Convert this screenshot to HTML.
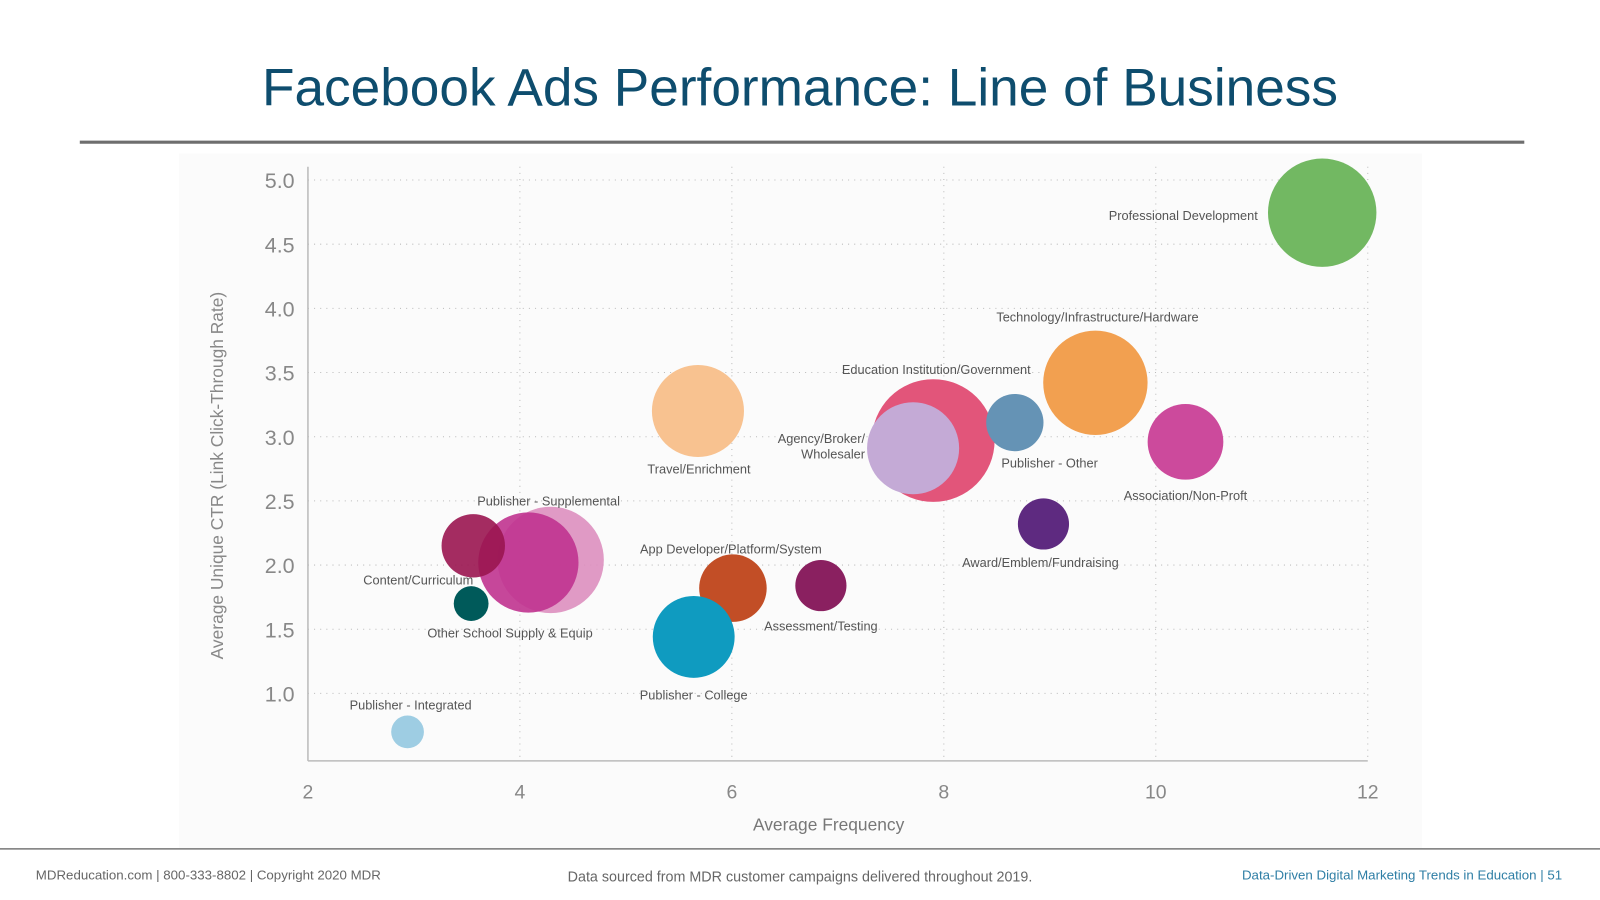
<!DOCTYPE html>
<html><head><meta charset="utf-8"><style>
html,body{margin:0;padding:0;background:#fff;width:1600px;height:900px;overflow:hidden}
svg{display:block}
text{font-family:"Liberation Sans",sans-serif}
</style></head><body>
<svg id="chart" width="1600" height="900" viewBox="0 0 1564 880" preserveAspectRatio="none" xmlns="http://www.w3.org/2000/svg">
<rect x="175" y="150" width="1215" height="680" fill="#fbfbfb"/>
<text x="782" y="103" text-anchor="middle" font-size="52" fill="#0e4d6e">Facebook Ads Performance: Line of Business</text>
<line x1="78" y1="139" x2="1490" y2="139" stroke="#6e6e6e" stroke-width="3"/>
<line x1="0" y1="830" x2="1564" y2="830" stroke="#777" stroke-width="1.5"/>
<g id="grid"></g><g id="bubbles"></g><g id="labels"></g><g id="axes"></g>
<text x="810" y="812" text-anchor="middle" font-size="17" fill="#777">Average Frequency</text>
<text transform="translate(218,465) rotate(-90)" text-anchor="middle" font-size="17" fill="#888">Average Unique CTR (Link Click-Through Rate)</text>
<text x="35" y="860" font-size="13" fill="#666">MDReducation.com  |  800-333-8802  |  Copyright 2020 MDR</text>
<text x="782" y="862" text-anchor="middle" font-size="14" fill="#666">Data sourced from MDR customer campaigns delivered throughout 2019.</text>
<text x="1527" y="860" text-anchor="end" font-size="13" fill="#2e7ea5">Data-Driven Digital Marketing Trends in Education  |  51</text>
</svg>
<script>
const categories=["Professional Development","Technology/Infrastructure/Hardware","Education Institution/Government","Agency/Broker/Wholesaler","Publisher - Other","Association/Non-Proft","Award/Emblem/Fundraising","Travel/Enrichment","App Developer/Platform/System","Assessment/Testing","Publisher - College","Publisher - Supplemental","Other School Supply & Equip","Content/Curriculum","Other School Supply (small)","Publisher - Integrated"];
const freq=[11.57,9.43,7.90,7.71,8.67,10.28,8.94,5.68,6.01,6.84,5.64,4.29,4.08,3.56,3.54,2.94];
const ctr=[4.745,3.42,2.97,2.91,3.11,2.96,2.32,3.20,1.82,1.84,1.44,2.04,2.02,2.15,1.70,0.70];
const sizes=[53,51,60,45,28,37,25,45,33,25,40,52,49,31,17,16];
const xTicks=[2,4,6,8,10,12];
const yTicks=[1.0,1.5,2.0,2.5,3.0,3.5,4.0,4.5,5.0];
const colors=["#72b862","#f2a050","#e2557a","#c4aad6","#6593b5","#cc4a9c","#5e2a80","#f8c290","#c24e26","#8a2060","#0f9bc0","#dd8fbf","#c0338f","#9a1550","#005a5a","#9ecde3"];
const opac=[1,1,1,1,1,1,1,1,1,1,1,0.9,0.9,0.9,1,1];
// label layout: [text lines, dx, dy, anchor] relative to bubble centre
const labelLayout=[[["Professional Development"],-63,7,"end"],[["Technology/Infrastructure/Hardware"],2,-60,"middle"],[["Education Institution/Government"],3,-65,"middle"],[["Agency/Broker/","Wholesaler"],-47,-5,"end"],[["Publisher - Other"],34,44,"middle"],[["Association/Non-Proft"],0,57,"middle"],[["Award/Emblem/Fundraising"],-3,42,"middle"],[["Travel/Enrichment"],1,61,"middle"],[["App Developer/Platform/System"],-2,-34,"middle"],[["Assessment/Testing"],0,44,"middle"],[["Publisher - College"],0,61,"middle"],[["Publisher - Supplemental"],-2,-53,"middle"],[null,0,0,"middle"],[["Content/Curriculum"],0,38,"end"],[["Other School Supply & Equip"],38,33,"middle"],[["Publisher - Integrated"],3,-22,"middle"]];
const X=v=>301+(v-2)*103.6, Y=v=>176+(5-v)*125.5;
const R=s=>s;
const NS="http://www.w3.org/2000/svg";
function mk(t,a,p){const e=document.createElementNS(NS,t);for(const k in a)e.setAttribute(k,a[k]);p.appendChild(e);return e;}
const grid=document.getElementById('grid'),axes=document.getElementById('axes'),bub=document.getElementById('bubbles'),lab=document.getElementById('labels');
xTicks.forEach(t=>{
 if(t>2){const l=mk('line',{x1:X(t),x2:X(t),y1:163,y2:744,stroke:"#bbb","stroke-dasharray":"1 5"},grid);
 
 }
 const tx=mk('text',{x:X(t),y:781,"text-anchor":"middle","font-size":19,fill:"#888"},axes);tx.textContent=t;
 
 
});
yTicks.forEach(t=>{
 const l=mk('line',{x1:301,x2:1337,y1:Y(t),y2:Y(t),stroke:"#bbb","stroke-dasharray":"1 5"},grid);
 
 
 const tx=mk('text',{x:288,y:Y(t)+8,"text-anchor":"end","font-size":21,fill:"#888"},axes);tx.textContent=t.toFixed(1);
 
 
});
const ya=mk('line',{x1:301,x2:301,y1:163,y2:744,stroke:"#bbb","stroke-width":1.5},axes);


const xa=mk('line',{x1:301,x2:1337,y1:744,y2:744,stroke:"#bbb","stroke-width":1.5},axes);


const order=[11,12,0,1,2,3,4,5,6,7,8,9,10,13,14,15];
order.forEach(i=>{
 const c=mk('circle',{cx:X(freq[i]),cy:Y(ctr[i]),r:R(sizes[i]),fill:colors[i],"fill-opacity":opac[i]},bub);
 
 
});
labelLayout.forEach((L,i)=>{
 if(!L[0])return;
 L[0].forEach((s,j)=>{
  const t=mk('text',{x:X(freq[i])+L[1],y:Y(ctr[i])+L[2]+j*15,"text-anchor":L[3],"font-size":12.5,fill:"#555"},lab);
  t.textContent=s;
  
  
 });
});
</script>
</body></html>
